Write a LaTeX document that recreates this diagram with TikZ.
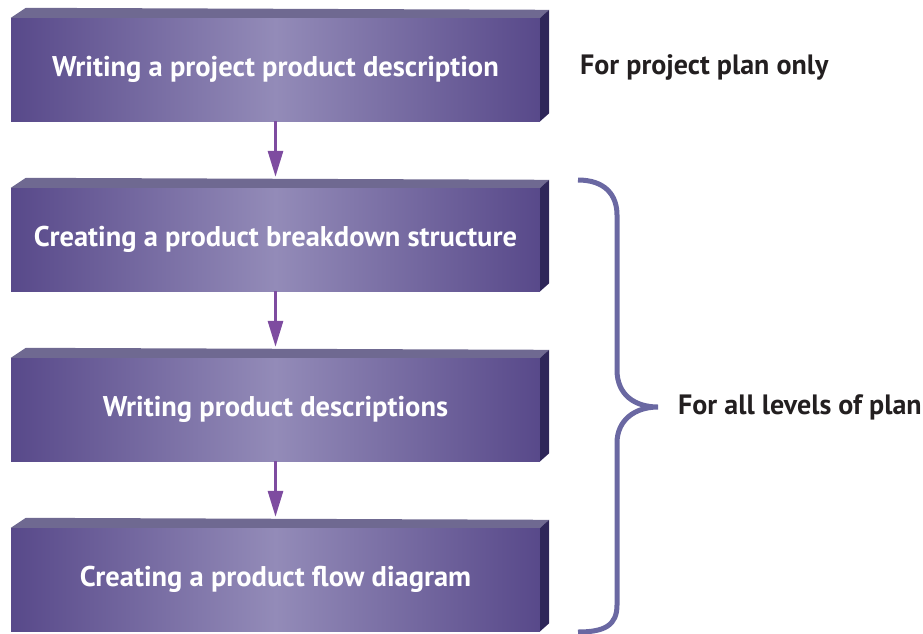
\documentclass[tikz,border=0pt]{standalone}
\usepackage{fontspec}
\setmainfont{PT Sans}
\usetikzlibrary{arrows.meta}
\definecolor{boxdark}{HTML}{58498A}
\definecolor{boxlight}{HTML}{938BB8}
\definecolor{boxtop}{HTML}{6F6991}
\definecolor{boxside}{HTML}{2E2659}
\definecolor{arrowcol}{HTML}{7E4CA0}
\definecolor{bracecol}{HTML}{6A68A2}
\definecolor{labelcol}{HTML}{231F20}
\tikzset{
  front/.style={shade, left color=boxdark, right color=boxdark, middle color=boxlight,
    minimum width=529pt, minimum height=103pt, inner sep=0pt,
    text=white, font=\bfseries\fontsize{28.5}{32}\selectfont},
  topface/.style={fill=boxtop},
  sideface/.style={fill=boxside},
  flow/.style={draw=arrowcol, line width=3pt, -{Triangle[width=15pt,length=26pt]}},
  brace/.style={draw=bracecol, line width=5pt},
  sidelabel/.style={text=labelcol, anchor=west, inner sep=0pt, font=\bfseries\fontsize{28}{32}\selectfont}
}
\newcommand{\boxfaces}[1]{%
  \fill[topface] (#1.north west) -- ++(15,-10) -- ([shift={(9,-8)}]#1.north east) -- (#1.north east) -- cycle;
  \fill[sideface] (#1.north east) -- ++(9,-8) -- ([shift={(9,-8)}]#1.south east) -- (#1.south east) -- cycle;
}
\begin{document}
\begin{tikzpicture}[x=1pt,y=-1pt]
\useasboundingbox (0,0) rectangle (923,633);
\node[front] (b1) at (275.5,69.5) {Writing a project product description};
\node[front] (b2) at (275.5,239.5) {Creating a product breakdown structure};
\node[front] (b3) at (275.5,409.5) {Writing product descriptions};
\node[front] (b4) at (275.5,579.5) {Creating a product flow diagram};
\boxfaces{b1}\boxfaces{b2}\boxfaces{b3}\boxfaces{b4}
\draw[flow] (b1.south) -- ([yshift=11pt]b2.north);
\draw[flow] (b2.south) -- ([yshift=11pt]b3.north);
\draw[flow] (b3.south) -- ([yshift=11pt]b4.north);
\coordinate (bt) at (578,180);
\coordinate (bm) at (658,407);
\coordinate (bb) at (578,632);
\draw[brace] (bt) .. controls (605,180) and (617,195) .. (617,215) -- (617,370)
  .. controls (617,395) and (635,407) .. (bm)
  .. controls (635,407) and (617,420) .. (617,443) -- (617,605)
  .. controls (617,625) and (605,632) .. (bb);
\node[sidelabel] (l1) at (580,67) {For project plan only};
\node[sidelabel] (l2) at (678,407) {For all levels of plan};
\end{tikzpicture}
\end{document}
